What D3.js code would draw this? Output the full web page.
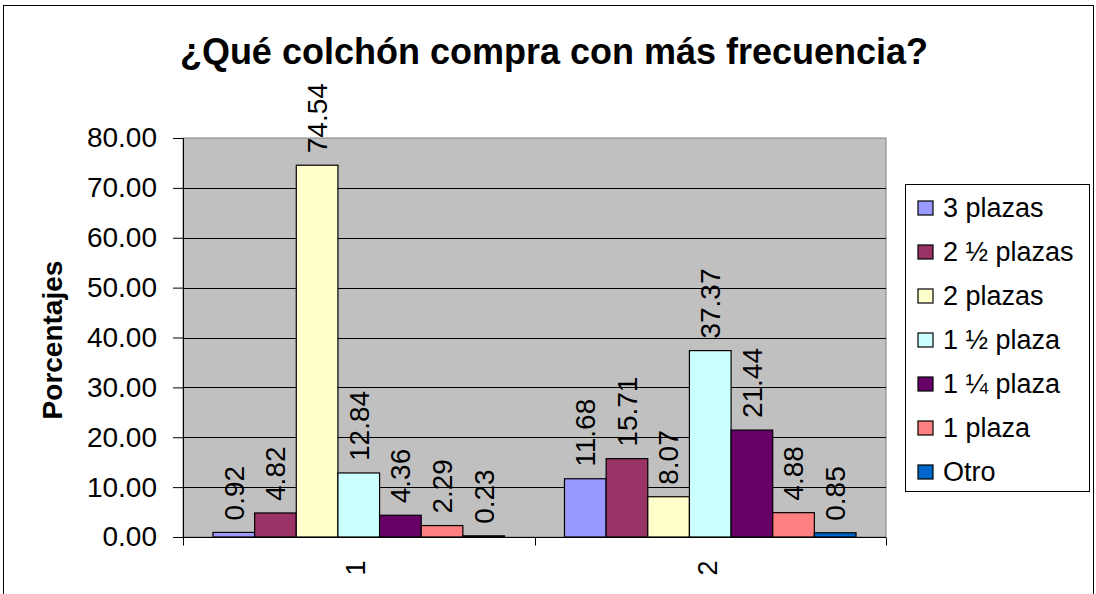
<!DOCTYPE html>
<html>
<head>
<meta charset="utf-8">
<script src="https://cdnjs.cloudflare.com/ajax/libs/d3/7.8.5/d3.min.js"></script>
<style>
    body { margin: 0; background: #fff; }
    svg text { font-family: "Liberation Sans", Arial, sans-serif; fill: #000; }
</style>
</head>
<body>
<div id="chart"></div>
<script>
// datos
var grupos = ["1", "2"];
var series = ["3 plazas", "2 \u00bd plazas", "2 plazas", "1 \u00bd plaza", "1 \u00bc plaza", "1 plaza", "Otro"];
var valoresGrupo1 = [0.92, 4.82, 74.54, 12.84, 4.36, 2.29, 0.23];
var valoresGrupo2 = [11.68, 15.71, 8.07, 37.37, 21.44, 4.88, 0.85];
var colores = ["#9999FF", "#993366", "#FFFFCC", "#CCFFFF", "#660066", "#FF8080", "#0066CC"];
var ticksY = [0, 10, 20, 30, 40, 50, 60, 70, 80];

var data = grupos.map(function(g, i) {
    var vals = i === 0 ? valoresGrupo1 : valoresGrupo2;
    return { grupo: g, valores: series.map(function(s, j) { return { serie: s, valor: vals[j] }; }) };
});

var width = 1096, height = 594;
var margin = {top: 138, right: 210, bottom: 57, left: 183};

var svg = d3.select("#chart").append("svg")
    .attr("width", width)
    .attr("height", height);

// marco exterior
svg.append("rect")
    .attr("x", 3.5).attr("y", 5.5)
    .attr("width", 1090).attr("height", 620)
    .attr("fill", "#fff")
    .attr("stroke", "#000");

// titulo
svg.append("text")
    .attr("x", 554)
    .attr("y", 64)
    .attr("text-anchor", "middle")
    .attr("font-size", "36px")
    .attr("font-weight", "bold")
    .text("\u00bfQu\u00e9 colch\u00f3n compra con m\u00e1s frecuencia?");

// escalas
var x0 = d3.scaleBand()
    .domain(grupos)
    .range([margin.left, width - margin.right])
    .padding(0);
var x1 = d3.scaleBand()
    .domain(series)
    .range([0, x0.bandwidth()])
    .paddingInner(0)
    .paddingOuter(0.72);
var y = d3.scaleLinear()
    .domain([0, 80])
    .range([height - margin.bottom, margin.top]);
var color = d3.scaleOrdinal().domain(series).range(colores);

// area del grafico
svg.append("rect")
    .attr("x", margin.left)
    .attr("y", margin.top)
    .attr("width", width - margin.right - margin.left)
    .attr("height", y(0) - margin.top)
    .attr("fill", "#C0C0C0")
    .attr("stroke", "#808080");

// lineas de division
svg.append("g")
    .selectAll("line")
    .data(ticksY.slice(1, -1))
    .enter().append("line")
    .attr("x1", margin.left)
    .attr("x2", width - margin.right)
    .attr("y1", function(d) { return Math.round(y(d)) + 0.5; })
    .attr("y2", function(d) { return Math.round(y(d)) + 0.5; })
    .attr("stroke", "#000");

// barras
var grupo = svg.append("g")
    .selectAll("g")
    .data(data)
    .enter().append("g")
    .attr("transform", function(d) { return "translate(" + x0(d.grupo) + ",0)"; });

grupo.selectAll("rect")
    .data(function(d) { return d.valores; })
    .enter().append("rect")
    .attr("x", function(d) { return x1(d.serie); })
    .attr("y", function(d) { return y(d.valor); })
    .attr("width", x1.bandwidth())
    .attr("height", function(d) { return y(0) - y(d.valor); })
    .attr("fill", function(d) { return color(d.serie); })
    .attr("stroke", "#000")
    .attr("stroke-width", 1.2);

// etiquetas de valor
grupo.selectAll(".label")
    .data(function(d) { return d.valores; })
    .enter().append("text")
    .attr("class", "label")
    .attr("transform", function(d) {
        return "translate(" + (x1(d.serie) + x1.bandwidth() / 2) + "," + (y(d.valor) - 12) + ") rotate(-90)";
    })
    .attr("dy", "0.35em")
    .attr("font-size", "28px")
    .text(function(d) { return d.valor.toFixed(2); });

// eje Y
var ejeY = svg.append("g")
    .attr("transform", "translate(" + margin.left + ",0)")
    .call(d3.axisLeft(y).tickValues(ticksY).tickSize(10).tickPadding(16)
        .tickFormat(function(d) { return d.toFixed(2); }));
ejeY.select(".domain").attr("stroke", "#000").attr("d", "M0.5," + y(80) + "V" + y(0));
ejeY.selectAll("text").attr("font-size", "28px").attr("font-family", null);

// eje X
var ejeX = svg.append("g")
    .attr("transform", "translate(0," + (Math.round(y(0)) + 0.5) + ")");
ejeX.append("line")
    .attr("x1", margin.left).attr("x2", width - margin.right)
    .attr("stroke", "#000");
ejeX.selectAll(".tick")
    .data([x0.range()[0], x0(grupos[1]), x0.range()[1]])
    .enter().append("line")
    .attr("class", "tick")
    .attr("x1", function(d) { return Math.round(d) + 0.5; })
    .attr("x2", function(d) { return Math.round(d) + 0.5; })
    .attr("y2", 8)
    .attr("stroke", "#000");
ejeX.selectAll("text")
    .data(grupos)
    .enter().append("text")
    .attr("transform", function(d) { return "translate(" + (x0(d) + x0.bandwidth() / 2 - 3) + ",23) rotate(-90)"; })
    .attr("text-anchor", "end")
    .attr("dy", "0.35em")
    .attr("font-size", "27px")
    .text(function(d) { return d; });

// titulo del eje Y
svg.append("text")
    .attr("transform", "translate(52,340) rotate(-90)")
    .attr("text-anchor", "middle")
    .attr("dy", "0.35em")
    .attr("font-size", "28px")
    .attr("font-weight", "bold")
    .text("Porcentajes");

// leyenda
var leyenda = svg.append("g");
leyenda.append("rect")
    .attr("x", 905.5).attr("y", 184.5)
    .attr("width", 184).attr("height", 307)
    .attr("fill", "#fff")
    .attr("stroke", "#000");

var item = leyenda.selectAll(".item")
    .data(series)
    .enter().append("g")
    .attr("class", "item")
    .attr("transform", function(d, i) { return "translate(918," + (208 + i * 44) + ")"; });
item.append("rect")
    .attr("x", 0).attr("y", -7)
    .attr("width", 15).attr("height", 14)
    .attr("fill", function(d) { return color(d); })
    .attr("stroke", "#000")
    .attr("stroke-width", 1.2);
item.append("text")
    .attr("x", 25)
    .attr("dy", "0.35em")
    .attr("font-size", "27px")
    .text(function(d) { return d; });
</script>
</body>
</html>
